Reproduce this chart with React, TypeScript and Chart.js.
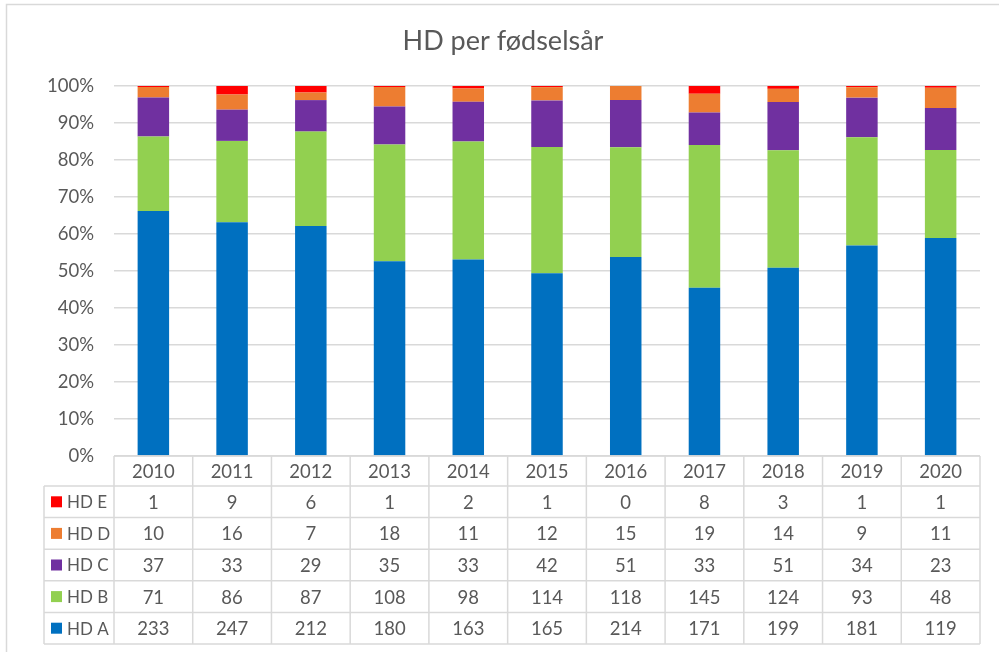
import React, { useEffect, useRef } from "react";
import { Chart, registerables } from "chart.js";

Chart.register(...registerables);

const years = ["2010", "2011", "2012", "2013", "2014", "2015", "2016", "2017", "2018", "2019", "2020"];
const hdA = [233, 247, 212, 180, 163, 165, 214, 171, 199, 181, 119];
const hdB = [71, 86, 87, 108, 98, 114, 118, 145, 124, 93, 48];
const hdC = [37, 33, 29, 35, 33, 42, 51, 33, 51, 34, 23];
const hdD = [10, 16, 7, 18, 11, 12, 15, 19, 14, 9, 11];
const hdE = [1, 9, 6, 1, 2, 1, 0, 8, 3, 1, 1];
const seriesNames = ["HD A", "HD B", "HD C", "HD D", "HD E"];
const seriesColors = ["#0070C0", "#92D050", "#7030A0", "#ED7D31", "#FF0000"];
const title = "HD per fødselsår";

const FONT = "Lato, 'Open Sans', sans-serif";
const TEXT = "#595959";
const LINE = "#D9D9D9";

export default function App() {
  const ref = useRef<HTMLCanvasElement | null>(null);
  useEffect(() => {
    const series = [hdA, hdB, hdC, hdD, hdE];
    const totals = years.map((_, i) => series.reduce((s, arr) => s + arr[i], 0));
    const datasets = series.map((arr, k) => ({
      label: seriesNames[k],
      data: arr.map((v, i) => (v / totals[i]) * 100),
      backgroundColor: seriesColors[k],
      borderWidth: 0,
      barPercentage: 0.4,
      categoryPercentage: 1,
      stack: "s",
    }));

    const tablePlugin = {
      id: "tablePlugin",
      afterDraw(chart: any) {
        const ctx = chart.ctx;
        const x = chart.scales.x;
        const area = chart.chartArea;
        const n = years.length;
        const colW = (area.right - area.left) / n;
        const top = area.bottom;
        const headerH = 30;
        const rowH = 31.6;
        const legendLeft = 44;
        const rows = [4, 3, 2, 1, 0];
        const bottom = top + headerH + rowH * rows.length;
        ctx.save();
        // outer border
        ctx.strokeStyle = LINE;
        ctx.lineWidth = 1.5;
        ctx.strokeRect(6.5, 4.5, 1100, 1000);
        // title
        ctx.fillStyle = TEXT;
        ctx.font = `27px ${FONT}`;
        ctx.textAlign = "center";
        ctx.textBaseline = "middle";
        ctx.fillText(title, 503, 41);
        // lines
        ctx.strokeStyle = LINE;
        ctx.lineWidth = 1.5;
        ctx.beginPath();
        ctx.moveTo(area.left, top);
        ctx.lineTo(area.right, top);
        for (let r = 0; r <= rows.length; r++) {
          const y = top + headerH + r * rowH;
          ctx.moveTo(legendLeft, y);
          ctx.lineTo(area.right, y);
        }
        for (let c = 0; c <= n; c++) {
          const xx = area.left + c * colW;
          ctx.moveTo(xx, top);
          ctx.lineTo(xx, bottom);
        }
        ctx.moveTo(legendLeft, top + headerH);
        ctx.lineTo(legendLeft, bottom);
        ctx.stroke();
        // text
        ctx.font = `18.5px ${FONT}`;
        ctx.fillStyle = TEXT;
        ctx.textAlign = "center";
        ctx.textBaseline = "middle";
        for (let i = 0; i < n; i++) {
          const cx = x.getPixelForValue(i);
          ctx.fillText(years[i], cx, top + headerH / 2 + 1);
          rows.forEach((k, r) => {
            const cy = top + headerH + r * rowH + rowH / 2 + 1;
            ctx.fillText(String(series[k][i]), cx, cy);
          });
        }
        // legend keys
        ctx.font = `17px ${FONT}`;
        rows.forEach((k, r) => {
          const cy = top + headerH + r * rowH + rowH / 2;
          ctx.fillStyle = seriesColors[k];
          ctx.fillRect(51, cy - 5.5, 11, 11);
          ctx.fillStyle = TEXT;
          ctx.textAlign = "left";
          ctx.fillText(seriesNames[k], 67, cy + 1);
        });
        ctx.restore();
      },
    };

    const chart = new Chart(ref.current as HTMLCanvasElement, {
      type: "bar",
      data: { labels: years, datasets },
      options: {
        animation: false,
        responsive: false,
        devicePixelRatio: 1,
        layout: { padding: { top: 86, bottom: 196, left: 0, right: 19 } },
        plugins: { legend: { display: false }, title: { display: false }, tooltip: { enabled: false } },
        scales: {
          x: { display: false, stacked: true },
          y: {
            stacked: true,
            min: 0,
            max: 100,
            afterFit(scale: any) {
              scale.width = 114;
            },
            ticks: {
              stepSize: 10,
              padding: 20,
              color: TEXT,
              font: { family: FONT, size: 18.5 },
              callback: (v: any) => `${v}%`,
            },
            grid: { color: LINE, lineWidth: 1.5, drawTicks: false },
            border: { display: false },
          },
        },
      },
      plugins: [tablePlugin],
    });
    return () => chart.destroy();
  }, []);
  return (
    <div style={{ position: "absolute", left: 0, top: 0, width: 999, height: 652, background: "#fff" }}>
      <canvas ref={ref} width={999} height={652} style={{ width: 999, height: 652, display: "block" }} />
    </div>
  );
}
